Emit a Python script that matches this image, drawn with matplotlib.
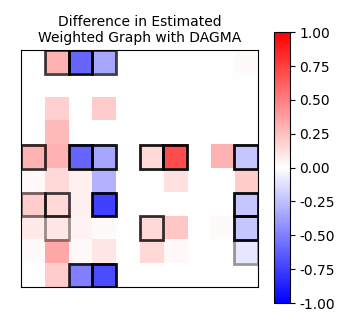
import numpy as np
import matplotlib
matplotlib.use('Agg')
import matplotlib.pyplot as plt
from matplotlib.patches import Rectangle

# difference between estimated and true weighted adjacency (10 nodes)
diff = np.array([
    [0.00, 0.30, -0.60, -0.35, 0.00, 0.00, 0.00, 0.00, 0.00, 0.02],
    [0.00, 0.00, 0.00, 0.00, 0.00, 0.00, 0.00, 0.00, 0.00, 0.00],
    [0.00, 0.18, 0.00, 0.20, 0.00, 0.00, 0.00, 0.00, 0.00, 0.00],
    [0.00, 0.27, 0.00, 0.00, 0.00, 0.00, 0.00, 0.00, 0.00, 0.00],
    [0.30, 0.30, -0.60, -0.35, 0.00, 0.15, 0.70, 0.00, 0.30, -0.22],
    [0.03, 0.15, 0.06, -0.30, 0.00, 0.00, 0.12, 0.00, 0.00, 0.20],
    [0.20, 0.15, 0.06, -0.75, 0.00, 0.00, 0.00, 0.00, 0.00, -0.22],
    [0.08, 0.10, 0.05, 0.02, 0.00, 0.15, 0.22, 0.00, 0.02, -0.22],
    [0.02, 0.35, 0.03, 0.10, 0.00, 0.15, 0.03, 0.00, 0.00, -0.10],
    [0.00, 0.20, -0.50, -0.70, 0.00, 0.00, 0.00, 0.00, 0.00, 0.00],
])

# true edges (row, col, outline strength)
edge_rows = [0, 0, 0, 4, 4, 4, 4, 4, 4, 6, 6, 6, 6, 7, 7, 7, 8, 9, 9]
edge_cols = [1, 2, 3, 0, 2, 3, 5, 6, 9, 0, 1, 3, 9, 1, 5, 9, 9, 2, 3]
edge_alpha = [0.75, 0.95, 0.75, 0.8, 0.95, 0.9, 0.9, 0.95, 0.95,
              0.55, 0.75, 0.95, 0.95, 0.4, 0.8, 0.95, 0.4, 0.8, 0.95]

fig = plt.figure(figsize=(3.53, 3.28), dpi=100)
ax = fig.add_axes([0.0595, 0.1235, 0.672, 0.7226])
cax = fig.add_axes([0.776, 0.076, 0.045, 0.826])

im = ax.imshow(diff, cmap='bwr', vmin=-1, vmax=1)
for r, c, a in zip(edge_rows, edge_cols, edge_alpha):
    ax.add_patch(Rectangle((c - 0.5, r - 0.5), 1, 1, fill=False,
                           edgecolor='black', lw=2, alpha=a))
ax.set_xticks([])
ax.set_yticks([])
ax.set_title('Difference in Estimated\nWeighted Graph with DAGMA', fontsize=10)

fig.colorbar(im, cax=cax, ticks=[-1, -0.75, -0.5, -0.25, 0, 0.25, 0.5, 0.75, 1],
             format='%.2f')

fig.savefig('out.png', dpi=100)
